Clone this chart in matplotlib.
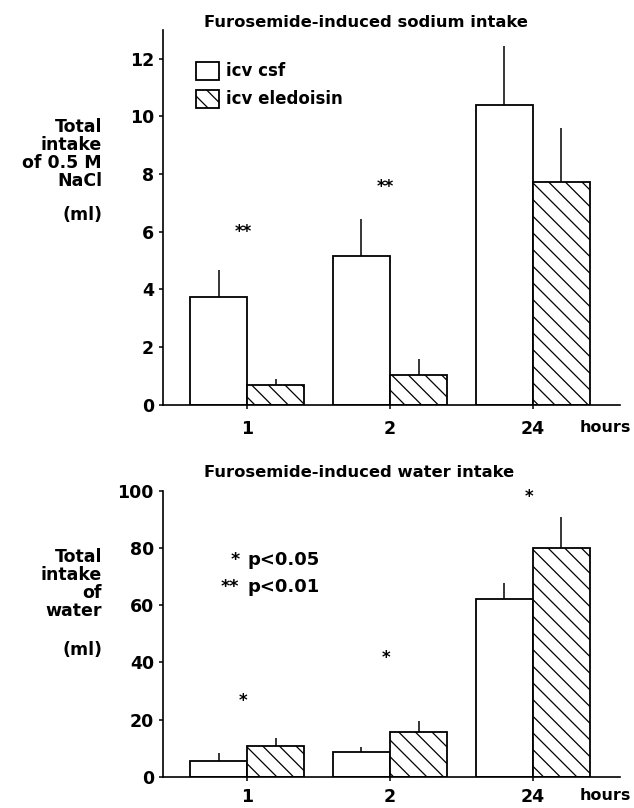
import matplotlib.pyplot as plt
import matplotlib.patches as mpatches
import numpy as np

plt.rcParams['font.family'] = ['DejaVu Sans']
plt.rcParams['font.weight'] = 'bold'
plt.rcParams['hatch.linewidth'] = 0.9

hours = ['1', '2', '24']

# sodium intake (ml of 0.5 M NaCl)
na_csf = [3.73, 5.16, 10.4]
na_csf_err = [0.95, 1.27, 2.04]
na_ele = [0.67, 1.05, 7.73]
na_ele_err = [0.23, 0.55, 1.87]
na_stars = ['**', '**', '']
na_star_y = [6.0, 7.55, 0]

# water intake (ml)
w_csf = [5.6, 8.5, 62.1]
w_csf_err = [2.6, 2.0, 5.9]
w_ele = [10.7, 15.75, 80.2]
w_ele_err = [2.95, 3.75, 10.7]
w_stars = ['*', '*', '*']
w_star_y = [26.5, 41.7, 98.0]

fig = plt.figure(figsize=(6.34, 8.08), dpi=100)
ax1 = fig.add_axes([0.257, 0.499, 0.721, 0.464])
ax2 = fig.add_axes([0.257, 0.0388, 0.721, 0.3532])

x = np.arange(len(hours))
w = 0.4


def draw(ax, csf, csf_err, ele, ele_err, stars, star_y, ylim, yticks, xpad):
    ax.bar(x - w / 2, csf, w, color='white', edgecolor='black', linewidth=1.3)
    ax.bar(x + w / 2, ele, w, color='white', edgecolor='black', linewidth=1.3,
           hatch='\\\\')
    ax.errorbar(x - w / 2, csf, yerr=[np.zeros(3), csf_err], fmt='none',
                ecolor='black', elinewidth=1.1, capsize=0)
    ax.errorbar(x + w / 2, ele, yerr=[np.zeros(3), ele_err], fmt='none',
                ecolor='black', elinewidth=1.1, capsize=0)
    for i, s in enumerate(stars):
        if s:
            ax.text(x[i] - 0.03, star_y[i], s, ha='center', va='center',
                    fontsize=12)
    ax.set_xlim(-0.59, 2.61)
    ax.set_ylim(*ylim)
    ax.set_yticks(yticks)
    ax.set_xticks(x)
    ax.set_xticklabels(hours)
    ax.spines['top'].set_visible(False)
    ax.spines['right'].set_visible(False)
    ax.spines['left'].set_linewidth(1.2)
    ax.spines['bottom'].set_linewidth(1.2)
    ax.tick_params(axis='y', labelsize=12.5, width=1.1, length=3, pad=3.5)
    ax.tick_params(axis='x', labelsize=12.5, width=1.1, length=3, pad=xpad)
    ax.annotate('hours', xy=(2.33, 0), xycoords=('data', 'axes fraction'),
                xytext=(0, -(xpad + 3)), textcoords='offset points',
                ha='left', va='top', fontsize=11.5)


draw(ax1, na_csf, na_csf_err, na_ele, na_ele_err, na_stars, na_star_y,
     (0, 13), [0, 2, 4, 6, 8, 10, 12], 8)
draw(ax2, w_csf, w_csf_err, w_ele, w_ele_err, w_stars, w_star_y,
     (0, 100), [0, 20, 40, 60, 80, 100], 5)

ax1.text(0.445, 1.019, 'Furosemide-induced sodium intake', transform=ax1.transAxes,
         ha='center', va='center', fontsize=11.8)
ax2.text(0.43, 1.066, 'Furosemide-induced water intake', transform=ax2.transAxes,
         ha='center', va='center', fontsize=11.8)

handles = [mpatches.Patch(facecolor='white', edgecolor='black', linewidth=1.3),
           mpatches.Patch(facecolor='white', edgecolor='black', linewidth=1.3,
                          hatch='\\\\')]
ax1.legend(handles, ['icv csf', 'icv eledoisin'], loc='upper left',
           bbox_to_anchor=(0.072, 0.915), frameon=False, fontsize=12,
           handlelength=1.4, handleheight=1.3, handletextpad=0.4,
           labelspacing=0.55, borderpad=0, borderaxespad=0)

# p-value key in lower panel
ax2.text(-0.055, 76, '*', ha='right', va='center', fontsize=12.5)
ax2.text(0.0, 76, 'p<0.05', ha='left', va='center', fontsize=13)
ax2.text(-0.055, 66.5, '**', ha='right', va='center', fontsize=12.5)
ax2.text(0.0, 66.5, 'p<0.01', ha='left', va='center', fontsize=13)

# y labels
fig.text(0.161, 0.809, 'Total\nintake\nof 0.5 M\nNaCl', ha='right', va='center',
         fontsize=12.5, linespacing=1.0)
fig.text(0.161, 0.734, '(ml)', ha='right', va='center', fontsize=12.5)
fig.text(0.161, 0.277, 'Total\nintake\nof\nwater', ha='right', va='center',
         fontsize=12.5, linespacing=1.0)
fig.text(0.161, 0.196, '(ml)', ha='right', va='center', fontsize=12.5)

fig.savefig('out.png', dpi=100)
